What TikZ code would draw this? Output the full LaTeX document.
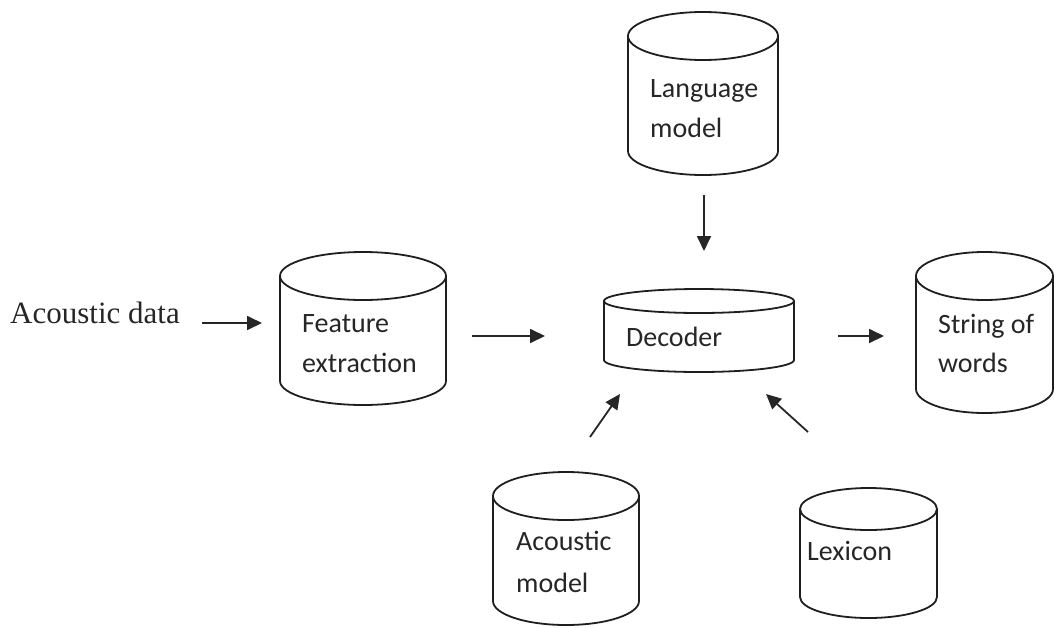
\documentclass[tikz,border=0pt]{standalone}
\usepackage{fontspec}
\setmainfont{Liberation Serif}
\newfontfamily\calfont{Carlito}
\usetikzlibrary{arrows.meta}
\tikzset{
  cylline/.style={draw=black!88, line width=1.8pt},
  lbl/.style={anchor=base west, inner sep=0pt, font=\calfont\fontsize{28}{34}\selectfont, text=black!85},
  arr/.style={draw=black!85, line width=1.8pt, -{Triangle[length=15pt,width=14pt]}},
}
% name, left, top, right, bottom, ry
\newcommand\mycyl[6]{%
  \pgfmathsetmacro\cx{(#2+#4)/2}%
  \pgfmathsetmacro\rx{(#4-#2)/2}%
  \pgfmathsetmacro\ct{#3+#6}%
  \pgfmathsetmacro\cb{#5-#6}%
  \pgfmathsetmacro\cy{(#3+#5)/2}%
  \pgfmathsetmacro\ww{#4-#2}%
  \pgfmathsetmacro\hh{#5-#3}%
  \draw[cylline] (#2,\ct) -- (#2,\cb) arc[start angle=180,end angle=0,x radius=\rx,y radius=#6] -- (#4,\ct);
  \draw[cylline] (\cx,\ct) ellipse[x radius=\rx,y radius=#6];
  \node[inner sep=0pt, minimum width=\ww pt, minimum height=\hh pt] (#1) at (\cx,\cy) {};
}
\begin{document}
\begin{tikzpicture}[x=1pt,y=-1pt]
\useasboundingbox (0,0) rectangle (1054,627);

\mycyl{lm}{628}{12}{778}{175}{24}
\mycyl{fe}{280}{252}{446}{405}{24}
\mycyl{dec}{604}{289}{794}{372}{12}
\mycyl{sw}{916}{252}{1053}{413}{24}
\mycyl{am}{493}{472}{639}{625}{24}
\mycyl{lex}{800}{488}{937}{618}{21}

\node[lbl] (lm1) at (650,97) {Language};
\node[lbl] (lm2) at (650,137) {model};
\node[lbl] (fe1) at (302,332) {Feature};
\node[lbl] (fe2) at (302,372) {extraction};
\node[lbl] (dec1) at (626,346) {Decoder};
\node[lbl] (sw1) at (938,333) {String of};
\node[lbl] (sw2) at (938,372) {words};
\node[lbl] (am1) at (516,550) {Acoustic};
\node[lbl] (am2) at (516,592) {model};
\node[lbl] (lex1) at (807,560) {Lexicon};

\node[anchor=base west, inner sep=0pt, font=\fontsize{31}{36}\selectfont, text=black!85] (ad) at (10,323) {Acoustic data};

\coordinate (adE) at (202,323);
\coordinate (feW) at (262,323);
\coordinate (feE) at (472,336);
\coordinate (decW) at (545,336);
\coordinate (decE) at (838,336);
\coordinate (swW) at (884,336);
\coordinate (lmS) at (704,195);
\coordinate (decN) at (704,251);
\coordinate (amN) at (590,437);
\coordinate (decSW) at (620,394);
\coordinate (lexN) at (808,432);
\coordinate (decSE) at (766,394);

\draw[arr] (adE) -- (feW);
\draw[arr] (feE) -- (decW);
\draw[arr] (decE) -- (swW);
\draw[arr] (lmS) -- (decN);
\draw[arr] (amN) -- (decSW);
\draw[arr] (lexN) -- (decSE);
\end{tikzpicture}
\end{document}
